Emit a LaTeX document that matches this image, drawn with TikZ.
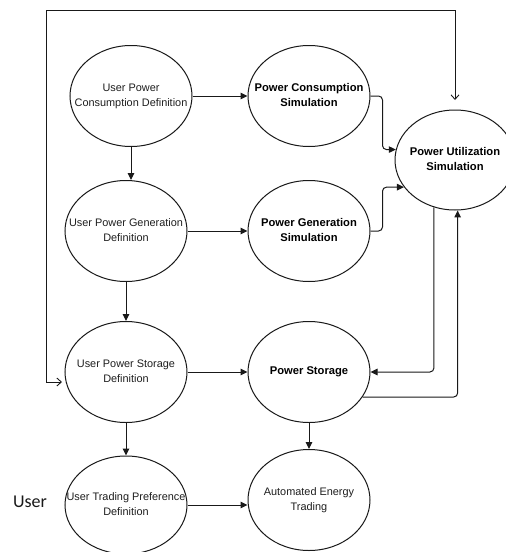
\documentclass[tikz,border=0pt]{standalone}
\usepackage{fontspec}
\setmainfont{Liberation Sans}
\newfontfamily\userfont{Carlito}
\usetikzlibrary{arrows.meta,calc,shapes.geometric}
\newcommand\twoline[2]{\makebox[0pt]{\begin{tabular}{@{}c@{}}#1\\#2\end{tabular}}}
\newcommand\oneline[1]{\makebox[0pt]{#1}}
\begin{document}
\begin{tikzpicture}[x=1pt,y=-1pt,
  bubble/.style={draw=black!90, line width=1pt, ellipse, inner sep=0pt,
    minimum width=122pt, minimum height=101pt, text=black!88,
    font=\fontsize{10.9}{15.5}\selectfont},
  simbubble/.style={bubble, text=black, font=\fontsize{11.2}{15.5}\selectfont\bfseries},
  arr/.style={draw=black!90, line width=1pt, -{Triangle[length=7pt,width=6.5pt]}, rounded corners=4pt},
  fbline/.style={draw=black!90, line width=0.9pt, {Straight Barb[length=4.5pt,width=8pt]}-{Straight Barb[length=4.5pt,width=8pt]}}
]
\clip (0,0) rectangle (506,552);
\fill[white] (0,0) rectangle (506,552);

\node[bubble] (ucd) at (131,96) {\twoline{User Power}{Consumption Definition}};
\node[simbubble] (pcs) at (309,96) {\twoline{Power Consumption}{Simulation}};
\node[simbubble, minimum width=120pt, minimum height=100pt] (pus) at (455,160) {\twoline{Power Utilization}{Simulation}};
\node[bubble] (ugd) at (126,231) {\twoline{User Power Generation}{Definition}};
\node[simbubble] (pgs) at (309,231) {\twoline{Power Generation}{Simulation}};
\node[bubble] (usd) at (126,372) {\twoline{User Power Storage}{Definition}};
\node[simbubble] (ps) at (309,372) {\oneline{Power Storage}};
\node[bubble, minimum height=98pt] (utd) at (126,505) {\twoline{User Trading Preference}{Definition}};
\node[bubble] (aet) at (309,500) {\twoline{Automated Energy}{Trading}};
\node[font=\userfont\fontsize{18}{20}\selectfont, text=black!90] (user) at (30,502) {User};

% horizontal flows
\draw[arr] (ucd.east) -- (pcs.west);
\draw[arr] (ugd.east) -- (pgs.west);
\draw[arr] (usd.east) -- (ps.west);
\draw[arr] (utd.east) -- (utd.east -| aet.west);

% vertical flows
\draw[arr] (ucd.south) -- (ucd.south |- ugd.north);
\draw[arr] (ugd.south) -- (usd.north);
\draw[arr] (usd.south) -- (utd.north);
\draw[arr] (ps.south) -- (aet.north);

% to / from power utilization
\draw[arr] (pcs.east) -- ++(12,0) |- (pus.170);
\draw[arr] (pgs.east) -- ++(12,0) |- (pus.208);
\draw[arr] (pus.246) |- (ps.east);
\draw[arr] (ps.-25) -| (pus.-87);

% feedback loop
\coordinate (loopA) at (62,382);
\coordinate (loopB) at (455,100);
\coordinate (tl) at (46,10);
\draw[fbline] (loopA) -- (loopA -| tl) -- (tl) -- (tl -| loopB) -- (loopB);
\end{tikzpicture}
\end{document}
